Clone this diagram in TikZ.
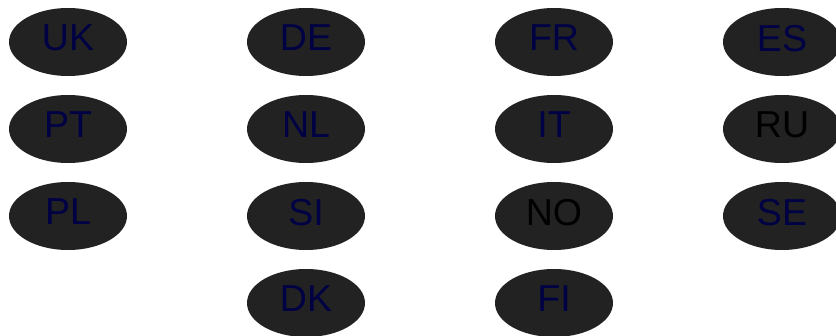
\documentclass[tikz,border=0pt]{standalone}
\usepackage{fontspec}
\setmainfont{Liberation Sans}
\usetikzlibrary{shapes.geometric}
\definecolor{bubblegray}{HTML}{222222}
\definecolor{navytext}{HTML}{000044}
\tikzset{
    country/.style={ellipse, fill=bubblegray, draw=none, minimum width=118pt,
        minimum height=68pt, inner sep=0pt, text=navytext, text depth=8pt,
        font=\fontsize{37.5}{37.5}\selectfont},
    plain/.style={country, text=black}
}
\begin{document}
\begin{tikzpicture}[x=1pt, y=1pt]

    % Khung ảnh
    \useasboundingbox (0, 0) rectangle (836, 335);

    % Hàng 1
    \node[country] (uk) at (68, 293) {UK};
    \node[country] (de) at (306, 293) {DE};
    \node[country] (fr) at (554, 293) {FR};
    \node[country] (es) at (782, 293) {ES};

    % Hàng 2
    \node[country] (pt) at (68, 206) {PT};
    \node[country] (nl) at (306, 206) {NL};
    \node[country] (it) at (554, 206) {IT};
    \node[plain] (ru) at (782, 206) {RU};

    % Hàng 3
    \node[country] (pl) at (68, 119) {PL};
    \node[country] (si) at (306, 119) {SI};
    \node[plain] (no) at (554, 119) {NO};
    \node[country] (se) at (782, 119) {SE};

    % Hàng 4
    \node[country] (dk) at (306, 32) {DK};
    \node[country] (fi) at (554, 32) {FI};

\end{tikzpicture}
\end{document}
